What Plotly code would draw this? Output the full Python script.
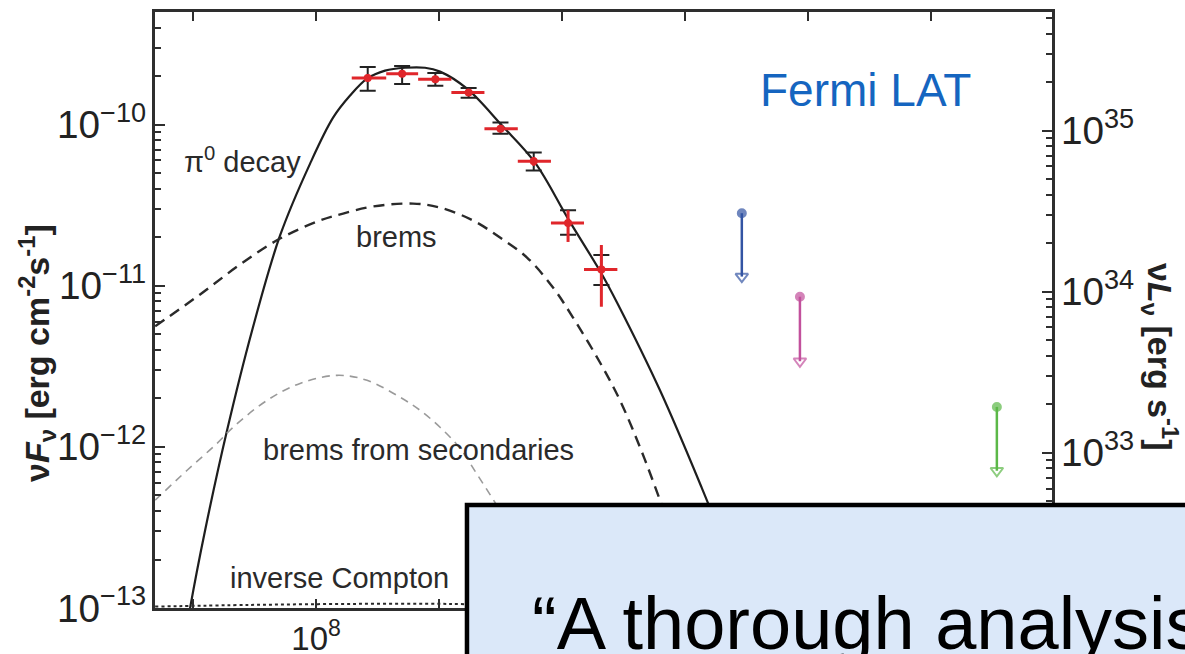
import plotly.graph_objects as go

# ---- model curves (energy in eV, nu F_nu in erg cm^-2 s^-1) ----
pi0_energy = [7.83e6, 9.45e6, 1.252e7, 1.889e7, 3.018e7, 5.096e7, 8.94e7, 1.375e8, 1.890e8,
              2.598e8, 3.639e8, 5.291e8, 7.695e8, 1.019e9, 1.689e9, 3.253e9, 6.035e9,
              1.119e10, 2.115e10, 2.801e10, 6.263e10, 1.375e11, 2.323e11]
pi0_flux = [4.12e-14, 1.0e-13, 3.04e-13, 1.268e-12, 5.28e-12, 2.051e-11, 5.73e-11, 1.104e-10, 1.514e-10,
            1.928e-10, 2.163e-10, 2.254e-10, 2.254e-10, 2.133e-10, 1.671e-10, 9.86e-11, 5.81e-11,
            2.612e-11, 1.175e-11, 7.87e-12, 2.244e-12, 5.53e-13, 2.04e-13]

brems_energy = [4.911e6, 1.140e7, 2.411e7, 5.096e7, 1.078e8, 1.658e8, 2.906e8, 6.146e8, 1.019e9,
                1.890e9, 3.133e9, 5.193e9, 8.450e9, 1.229e10, 2.037e10, 2.961e10, 4.307e10,
                6.262e10, 1.098e11]
brems_flux = [5.60e-12, 8.83e-12, 1.355e-11, 1.963e-11, 2.541e-11, 2.805e-11, 3.105e-11, 3.236e-11, 3.055e-11,
              2.541e-11, 1.991e-11, 1.496e-11, 9.75e-12, 6.35e-12, 3.34e-12, 1.945e-12, 9.95e-13,
              4.67e-13, 1.387e-13]

sec_energy = [4.911e6, 8.94e6, 1.567e7, 2.115e7, 3.998e7, 7.41e7, 1.482e8, 2.598e8, 4.819e8,
              7.009e8, 1.019e9, 1.482e9, 2.037e9, 2.748e9, 3.777e9]
sec_flux = [4.67e-13, 7.16e-13, 1.052e-12, 1.324e-12, 1.945e-12, 2.477e-12, 2.780e-12, 2.588e-12, 2.032e-12,
            1.687e-12, 1.324e-12, 9.79e-13, 6.76e-13, 4.73e-13, 3.18e-13]

ic_energy = [4.911e6, 2.906e7, 1.890e8, 1.229e9, 4.555e9]
ic_flux = [1.02e-13, 1.045e-13, 1.06e-13, 1.06e-13, 1.035e-13]

# ---- Fermi LAT spectral points ----
lat_energy = [2.63e8, 5.01e8, 9.33e8, 1.74e9, 3.16e9, 5.89e9, 1.12e10, 2.09e10]
lat_e_low = [1.95e8, 3.72e8, 6.76e8, 1.26e9, 2.34e9, 4.37e9, 8.13e9, 1.51e10]
lat_e_high = [3.72e8, 6.76e8, 1.26e9, 2.34e9, 4.37e9, 8.13e9, 1.51e10, 2.82e10]
lat_flux = [1.95e-10, 2.07e-10, 1.91e-10, 1.58e-10, 9.44e-11, 5.92e-11, 2.45e-11, 1.26e-11]
lat_sys_low = [1.62e-10, 1.79e-10, 1.74e-10, 1.47e-10, 8.79e-11, 5.20e-11, 2.07e-11, 1.01e-11]
lat_sys_high = [2.28e-10, 2.31e-10, 2.09e-10, 1.69e-10, 1.03e-10, 6.71e-11, 2.94e-11, 1.55e-11]
lat_stat_low = [1.85e-10, 1.97e-10, 1.83e-10, 1.52e-10, 9.0e-11, 5.55e-11, 1.87e-11, 7.41e-12]
lat_stat_high = [2.05e-10, 2.17e-10, 1.99e-10, 1.64e-10, 9.9e-11, 6.3e-11, 2.94e-11, 1.79e-11]

# ---- TeV upper limits ----
ul_energy = [2.90e11, 8.61e11, 3.44e13]
ul_flux = [2.82e-11, 8.55e-12, 1.77e-12]
ul_arrow_end = [1.14e-11, 3.40e-12, 7.11e-13]
ul_colors = ["#3354a3", "#c2509c", "#5cb848"]

x_tick_vals = [1e7, 1e8, 1e9, 1e10, 1e11, 1e12, 1e13, 1e14]
x_tick_text = ["", "10<sup>8</sup>", "", "", "", "", "", ""]

FONT = "Liberation Sans, Arial, Helvetica, sans-serif"
AXIS_COLOR = "#2e2e2e"

fig = go.Figure()

fig.add_trace(go.Scatter(x=pi0_energy, y=pi0_flux, mode="lines", line_shape="spline",
                         line=dict(color="#1e1e1e", width=2.2), hoverinfo="skip"))
fig.add_trace(go.Scatter(x=brems_energy, y=brems_flux, mode="lines", line_shape="spline",
                         line=dict(color="#2a2a2a", width=2.4, dash="11px,7px"), hoverinfo="skip"))
fig.add_trace(go.Scatter(x=sec_energy, y=sec_flux, mode="lines", line_shape="spline",
                         line=dict(color="#9a9a9a", width=1.6, dash="8px,6px"), hoverinfo="skip"))
fig.add_trace(go.Scatter(x=ic_energy, y=ic_flux, mode="lines", line_shape="spline",
                         line=dict(color="#2a2a2a", width=2, dash="dot"), hoverinfo="skip"))

# systematic errors (black, capped)
fig.add_trace(go.Scatter(
    x=lat_energy, y=lat_flux, mode="markers",
    marker=dict(size=1, color="rgba(0,0,0,0)"),
    error_y=dict(type="data", symmetric=False,
                 array=[h - f for h, f in zip(lat_sys_high, lat_flux)],
                 arrayminus=[f - l for f, l in zip(lat_flux, lat_sys_low)],
                 color="#222222", thickness=2, width=8),
    hoverinfo="skip"))

# statistical errors and energy bins (red)
fig.add_trace(go.Scatter(
    x=lat_energy, y=lat_flux, mode="markers",
    marker=dict(size=8, color="#e0262b"),
    error_x=dict(type="data", symmetric=False,
                 array=[h - e for h, e in zip(lat_e_high, lat_energy)],
                 arrayminus=[e - l for e, l in zip(lat_energy, lat_e_low)],
                 color="#e0262b", thickness=3, width=0),
    error_y=dict(type="data", symmetric=False,
                 array=[h - f for h, f in zip(lat_stat_high, lat_flux)],
                 arrayminus=[f - l for f, l in zip(lat_flux, lat_stat_low)],
                 color="#e0262b", thickness=3, width=0),
    hoverinfo="skip"))

# upper limits: dot at the limit, arrow down
for e, f, f_end, c in zip(ul_energy, ul_flux, ul_arrow_end, ul_colors):
    fig.add_trace(go.Scatter(
        x=[e, e], y=[f, f_end], mode="lines+markers",
        line=dict(color=c, width=2.5),
        marker=dict(symbol=["circle", "triangle-down-open"], size=[8, 11],
                    color=c, line=dict(color=c, width=2)),
        hoverinfo="skip"))

# right-hand luminosity axis carrier
fig.add_trace(go.Scatter(x=[1e9], y=[1e34], yaxis="y2", mode="markers",
                         marker=dict(size=1, color="rgba(0,0,0,0)"), hoverinfo="skip"))

tick_font = dict(family=FONT, size=31, color="#222222")

fig.update_layout(
    width=1185, height=654,
    margin=dict(l=155, r=133, t=12, b=46, autoexpand=False),
    paper_bgcolor="white", plot_bgcolor="white",
    showlegend=False,
    xaxis=dict(type="log", range=[6.69, 13.985], automargin=False,
               tickvals=x_tick_vals, ticktext=x_tick_text,
               ticks="inside", ticklen=9, tickwidth=2, tickcolor=AXIS_COLOR,
               showline=True, linewidth=2.5, linecolor=AXIS_COLOR, mirror="ticks",
               showgrid=False, zeroline=False,
               tickfont=dict(family=FONT, size=33, color="#222222")),
    yaxis=dict(type="log", range=[-13, -9.301], dtick=1, automargin=False,
               exponentformat="power", showexponent="all",
               ticks="inside", ticklen=10, tickwidth=2, tickcolor=AXIS_COLOR,
               minor=dict(ticks="inside", ticklen=6, tickwidth=1.5, tickcolor=AXIS_COLOR,
                          dtick="D1", showgrid=False),
               showline=True, linewidth=2.5, linecolor=AXIS_COLOR, mirror=False,
               showgrid=False, zeroline=False, tickfont=tick_font),
    yaxis2=dict(type="log", range=[32.037, 35.736], dtick=1, overlaying="y", side="right",
                automargin=False, exponentformat="power", showexponent="all",
                ticks="inside", ticklen=10, tickwidth=2, tickcolor=AXIS_COLOR,
                minor=dict(ticks="inside", ticklen=6, tickwidth=1.5, tickcolor=AXIS_COLOR,
                           dtick="D1", showgrid=False),
                showline=True, linewidth=2.5, linecolor=AXIS_COLOR,
                showgrid=False, zeroline=False, tickfont=tick_font),
)

label_font = dict(family=FONT, size=29, color="#2a2a2a")
annotations = [
    dict(text="π<sup>0</sup> decay", x=0.097, y=0.752, font=label_font),
    dict(text="brems", x=0.2687, y=0.6225, font=label_font),
    dict(text="brems from secondaries", x=0.2932, y=0.2651, font=label_font),
    dict(text="inverse Compton", x=0.2062, y=0.0503, font=label_font),
    dict(text="Fermi LAT", x=0.7926, y=0.8691,
         font=dict(family=FONT, size=46, color="#1565c0")),
    dict(text="<b>ν<i>F</i><sub>ν</sub> [erg cm<sup>-2</sup>s<sup>-1</sup>]</b>",
         x=-0.1315, y=0.4279, textangle=-90,
         font=dict(family=FONT, size=34, color="#222222")),
    dict(text="<b>ν<i>L</i><sub>ν</sub> [erg s<sup>-1</sup>]</b>",
         x=1.1204, y=0.4211, textangle=90,
         font=dict(family=FONT, size=34, color="#222222")),
]
for a in annotations:
    a.update(xref="paper", yref="paper", showarrow=False, xanchor="center", yanchor="middle")
    fig.add_annotation(**a)

# quotation panel laid over the lower right of the chart
fig.add_shape(type="rect", xref="paper", yref="paper",
              x0=0.3478, x1=1.25, y0=-0.2, y1=0.1728,
              line=dict(color="black", width=4.5), fillcolor="#dbe8f9", layer="above")
fig.add_annotation(text="“A thorough analysis", xref="paper", yref="paper",
                   x=0.418, y=-0.0252, xanchor="left", yanchor="middle", showarrow=False,
                   font=dict(family=FONT, size=74, color="black"))

fig.write_html("out.html")
